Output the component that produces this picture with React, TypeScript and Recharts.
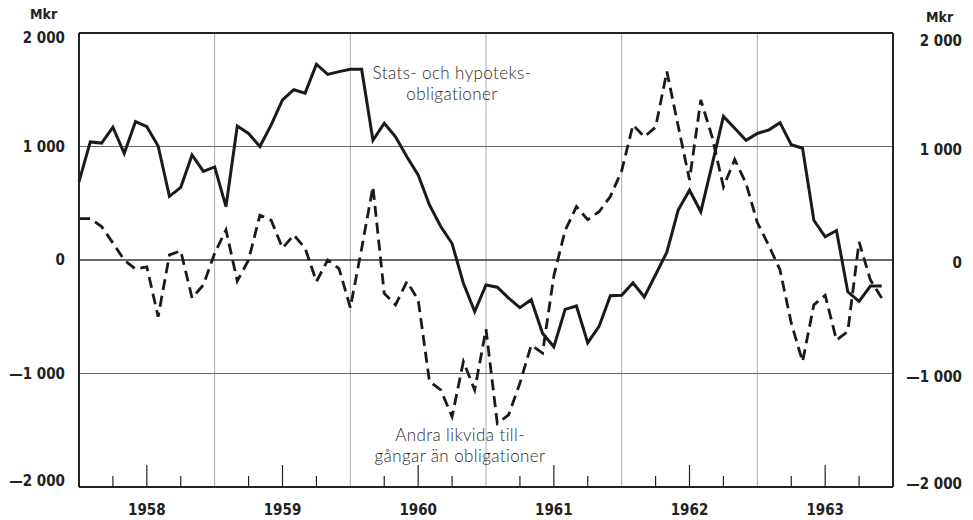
import { LineChart, Line, XAxis, YAxis, ReferenceLine } from 'recharts';

// Months counted from Jan 1958, one point per month
const years = ['1958', '1959', '1960', '1961', '1962', '1963'];

// Stats- och hypoteksobligationer (Mkr)
const bondValues = [
  690, 1040, 1030, 1170, 940, 1220, 1175, 1005, 560, 640, 925, 780,
  820, 470, 1180, 1115, 1000, 1190, 1410, 1500, 1470, 1725, 1635, 1660,
  1680, 1680, 1055, 1205, 1085, 910, 750, 485, 295, 145, -205, -455,
  -220, -240, -335, -420, -350, -645, -765, -435, -405, -730, -585, -315,
  -310, -200, -325, -130, 70, 440, 615, 425, 840, 1265, 1160, 1055,
  1115, 1145, 1210, 1015, 985, 350, 205, 260, -280, -365, -230, -230,
];

// Andra likvida tillgångar än obligationer (Mkr)
const otherLiquid = [
  365, 365, 295, 150, 0, -80, -60, -500, 45, 80, -335, -220,
  60, 265, -185, 0, 395, 350, 105, 220, 105, -190, 0, -75,
  -420, 100, 645, -295, -395, -190, -350, -1070, -1145, -1380, -895, -1145,
  -610, -1440, -1365, -1085, -750, -820, -140, 260, 470, 355, 425, 560,
  785, 1190, 1085, 1170, 1660, 1180, 705, 1410, 1085, 645, 885, 675,
  330, 130, -85, -555, -895, -395, -310, -705, -630, 160, -175, -335,
];

const yTicks = [-2000, -1000, 0, 1000, 2000];

const data = bondValues.map((v, i) => ({ m: i, bonds: v, other: otherLiquid[i] }));
const quarterTicks = years.flatMap((_, i) => [i * 12 + 3, i * 12 + 6, i * 12 + 9]);
const yearLines = years.slice(1).map((_, i) => (i + 1) * 12);

const font = '"DejaVu Sans Condensed", "DejaVu Sans", sans-serif';
const ink = '#222';

const fmt = (v: number) => {
  const abs = Math.abs(v);
  const s = abs >= 1000 ? `${Math.floor(abs / 1000)} ${String(abs % 1000).padStart(3, '0')}` : String(abs);
  return v < 0 ? `\u2014${s}` : s;
};

const labelShift = (v: number) => (v === 2000 ? 5 : v === -2000 ? -6 : 0);

const XTick = ({ x, y, payload }: any) => {
  const m = payload.value;
  const mid = m % 12 === 6;
  return (
    <g>
      <line x1={x} x2={x} y1={y} y2={y - (mid ? 22 : 11)} stroke={ink} strokeWidth={1.2} />
      {mid && (
        <text x={x} y={y + 28} textAnchor="middle" fontFamily={font} fontWeight={700} fontSize={15} fill={ink}>
          {years[(m - 6) / 12]}
        </text>
      )}
    </g>
  );
};

const LeftTick = ({ x, y, payload }: any) => (
  <text x={x} y={y + labelShift(payload.value)} dy={5} textAnchor="end" fontFamily={font} fontWeight={700} fontSize={15} fill={ink}>
    {fmt(payload.value)}
  </text>
);

const RightTick = ({ x, y, payload }: any) => (
  <text x={x + 69} y={y + labelShift(payload.value) + 3} dy={5} textAnchor="end" fontFamily={font} fontWeight={700} fontSize={15} fill={ink}>
    {fmt(payload.value)}
  </text>
);

const note = {
  position: 'absolute' as const,
  fontFamily: 'Lato, sans-serif',
  fontWeight: 300,
  fontSize: 17,
  letterSpacing: 0.4,
  color: '#2a2a2a',
  textAlign: 'center' as const,
  lineHeight: '21px',
  whiteSpace: 'nowrap' as const,
  transform: 'translateX(-50%)',
};

export default function App() {
  return (
    <div style={{ position: 'absolute', left: 0, top: 0, width: 973, height: 520, background: '#fff' }}>
      <div style={{ position: 'absolute', left: 30, top: 6, fontFamily: font, fontWeight: 700, fontSize: 14, color: ink }}>Mkr</div>
      <div style={{ position: 'absolute', left: 926, top: 9, fontFamily: font, fontWeight: 700, fontSize: 14, color: ink }}>Mkr</div>

      <LineChart width={973} height={520} data={data} margin={{ top: 33, right: 0, bottom: 0, left: 0 }}>
        <XAxis
          dataKey="m"
          type="number"
          domain={[0, 72]}
          ticks={quarterTicks}
          tick={<XTick />}
          tickLine={false}
          tickSize={0}
          tickMargin={0}
          height={33}
          axisLine={{ stroke: ink, strokeWidth: 2 }}
          interval={0}
        />
        <YAxis
          yAxisId="l"
          domain={[-2000, 2000]}
          ticks={yTicks}
          width={79}
          tick={<LeftTick />}
          tickLine={false}
          tickSize={0}
          tickMargin={14}
          axisLine={{ stroke: ink, strokeWidth: 2 }}
          interval={0}
        />
        <YAxis
          yAxisId="r"
          orientation="right"
          domain={[-2000, 2000]}
          ticks={yTicks}
          width={80}
          tick={<RightTick />}
          tickLine={false}
          tickSize={0}
          tickMargin={0}
          axisLine={{ stroke: ink, strokeWidth: 2 }}
          interval={0}
        />
        {yearLines.map((m) => (
          <ReferenceLine key={m} yAxisId="l" x={m} stroke="#aaa" strokeWidth={1} />
        ))}
        <ReferenceLine yAxisId="l" y={1000} stroke="#666" strokeWidth={1} />
        <ReferenceLine yAxisId="l" y={-1000} stroke="#666" strokeWidth={1} />
        <ReferenceLine yAxisId="l" y={0} stroke="#333" strokeWidth={1.4} />
        <ReferenceLine yAxisId="l" y={2000} stroke={ink} strokeWidth={2} />
        <Line
          yAxisId="l"
          dataKey="bonds"
          stroke="#1a1a1a"
          strokeWidth={3}
          dot={false}
          strokeLinejoin="miter"
          isAnimationActive={false}
        />
        <Line
          yAxisId="r"
          dataKey="other"
          stroke="#1a1a1a"
          strokeWidth={2.8}
          strokeDasharray="11 6"
          dot={false}
          strokeLinejoin="miter"
          isAnimationActive={false}
        />
      </LineChart>

      <div style={{ ...note, left: 452, top: 62 }}>
        Stats- och hypoteks-
        <br />
        obligationer
      </div>
      <div style={{ ...note, left: 460, top: 424 }}>
        Andra likvida till-
        <br />
        gångar än obligationer
      </div>
    </div>
  );
}
